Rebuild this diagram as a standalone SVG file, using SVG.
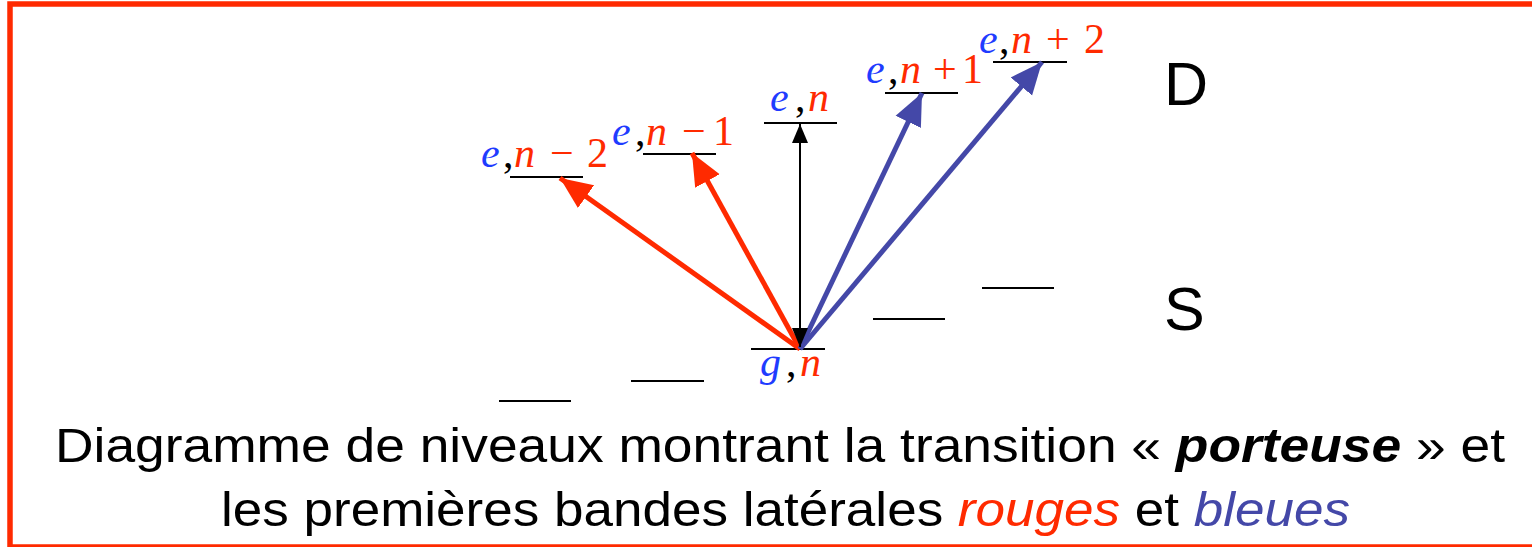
<svg xmlns="http://www.w3.org/2000/svg" width="1532" height="547" viewBox="0 0 1532 547">
<style>
.lvl{stroke:#000;stroke-width:2.2;fill:none}
.lab{font-family:"Liberation Serif",serif;font-size:42px}
.i{font-style:italic}
.b{fill:#1f3cff}
.r{fill:#ff2a00}
.k{fill:#000}
.big{font-family:"Liberation Sans",Arial,sans-serif;font-size:61px;fill:#000}
.cap{font-family:"Liberation Sans",Arial,sans-serif;font-size:49px;fill:#000}
</style>
<defs>
<marker id="hr" markerUnits="userSpaceOnUse" markerWidth="34" markerHeight="30" refX="32" refY="15" orient="auto"><path d="M0,1 L32,15 L0,29 Z" fill="#ff2a00"/></marker>
<marker id="hb" markerUnits="userSpaceOnUse" markerWidth="34" markerHeight="30" refX="32" refY="15" orient="auto"><path d="M0,1 L32,15 L0,29 Z" fill="#4448a8"/></marker>
<marker id="hk" markerUnits="userSpaceOnUse" markerWidth="20" markerHeight="16" refX="19" refY="8" orient="auto-start-reverse"><path d="M0,0 L19,8 L0,16 Z" fill="#000"/></marker>
</defs>
<rect x="10" y="4" width="1530" height="543" fill="#fff" stroke="#ff2a00" stroke-width="5.5"/>

<g id="levels">
<g id="lvl-e-nm2"><line class="lvl" x1="510" y1="177" x2="583" y2="177"/><text class="lab" y="167"><tspan x="481" class="i b">e</tspan><tspan x="503" class="k">,</tspan><tspan x="514" class="i r">n</tspan><tspan x="550" class="r">−</tspan><tspan x="587" class="r">2</tspan></text></g>
<g id="lvl-e-nm1"><line class="lvl" x1="643" y1="154" x2="716" y2="154"/><text class="lab" y="145"><tspan x="612" class="i b">e</tspan><tspan x="635" class="k">,</tspan><tspan x="646" class="i r">n</tspan><tspan x="682" class="r">−</tspan><tspan x="713" class="r">1</tspan></text></g>
<g id="lvl-e-n"><line class="lvl" x1="764" y1="123" x2="837" y2="123"/><text class="lab" y="111"><tspan x="770" class="i b">e</tspan><tspan x="795" class="k">,</tspan><tspan x="808" class="i r">n</tspan></text></g>
<g id="lvl-e-np1"><line class="lvl" x1="885" y1="93" x2="958" y2="93"/><text class="lab" y="83"><tspan x="866" class="i b">e</tspan><tspan x="888" class="k">,</tspan><tspan x="900" class="i r">n</tspan><tspan x="933" class="r">+</tspan><tspan x="962" class="r">1</tspan></text></g>
<g id="lvl-e-np2"><line class="lvl" x1="993" y1="62" x2="1067" y2="62"/><text class="lab" y="53"><tspan x="979" class="i b">e</tspan><tspan x="999" class="k">,</tspan><tspan x="1011" class="i r">n</tspan><tspan x="1046" class="r">+</tspan><tspan x="1084" class="r">2</tspan></text></g>
<g id="lvl-g-n"><line class="lvl" x1="751" y1="349" x2="825" y2="349"/><text class="lab" y="376"><tspan x="760" class="i b">g</tspan><tspan x="786" class="k">,</tspan><tspan x="800" class="i r">n</tspan></text></g>
<g id="lvl-s1"><line class="lvl" x1="499" y1="401" x2="571" y2="401"/></g>
<g id="lvl-s2"><line class="lvl" x1="631" y1="381" x2="704" y2="381"/></g>
<g id="lvl-s3"><line class="lvl" x1="873" y1="319" x2="945" y2="319"/></g>
<g id="lvl-s4"><line class="lvl" x1="982" y1="288" x2="1054" y2="288"/></g>
</g>

<g id="connectors">
<line x1="800" y1="349" x2="560" y2="178" stroke="#ff2a00" stroke-width="5" marker-end="url(#hr)"/>
<line x1="800" y1="349" x2="692" y2="153" stroke="#ff2a00" stroke-width="5" marker-end="url(#hr)"/>
<line x1="800" y1="349" x2="922" y2="93" stroke="#4448a8" stroke-width="5" marker-end="url(#hb)"/>
<line x1="800" y1="349" x2="1042" y2="62" stroke="#4448a8" stroke-width="5" marker-end="url(#hb)"/>
<line x1="800" y1="347" x2="800" y2="124" stroke="#000" stroke-width="2" marker-start="url(#hk)" marker-end="url(#hk)"/>
</g>

<text class="big" x="1164" y="105">D</text>
<text class="big" x="1164" y="330">S</text>

<text class="cap" x="55" y="462" textLength="1450" lengthAdjust="spacingAndGlyphs">Diagramme de niveaux montrant la transition « <tspan font-weight="bold" font-style="italic">porteuse</tspan> » et</text>
<text class="cap" x="221" y="526" textLength="1129" lengthAdjust="spacingAndGlyphs">les premières bandes latérales <tspan font-style="italic" fill="#ff2a00">rouges</tspan> et <tspan font-style="italic" fill="#4448a8">bleues</tspan></text>
</svg>
